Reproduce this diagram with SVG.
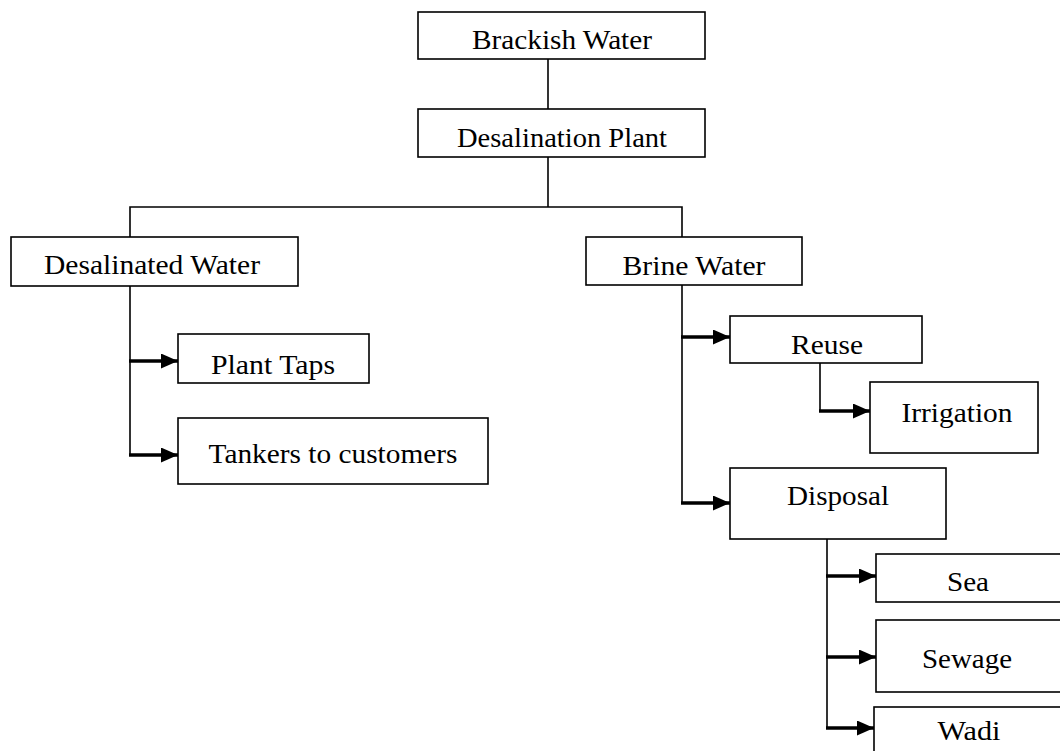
<svg xmlns="http://www.w3.org/2000/svg" width="1060" height="751" viewBox="0 0 1060 751">
<defs>
<style>
.box{fill:#fff;stroke:#000;stroke-width:1.6}
.lbl{font-family:"Liberation Serif","Times New Roman",serif;font-size:28px;fill:#000;text-anchor:middle}
.ln{fill:none;stroke:#000;stroke-width:1.6}
.arr{fill:none;stroke:#000;stroke-width:3.6;marker-end:url(#ah)}
</style>
<marker id="ah" viewBox="0 0 17 15" refX="17" refY="7.5" markerWidth="17" markerHeight="15" markerUnits="userSpaceOnUse" orient="auto">
<path d="M0,0 L17,7.5 L0,15 z" fill="#000"/>
</marker>
</defs>
<g id="connectors">
<line class="ln" x1="548" y1="59" x2="548" y2="109"/>
<polyline class="ln" points="548,157 548,207"/>
<polyline class="ln" points="130,237 130,207 682,207 682,237"/>
<polyline class="ln" points="130,286 130,456"/>
<line class="arr" x1="129" y1="361" x2="178" y2="361"/>
<line class="arr" x1="129" y1="455" x2="178" y2="455"/>
<polyline class="ln" points="682,285 682,504"/>
<line class="arr" x1="681" y1="337" x2="730" y2="337"/>
<line class="arr" x1="681" y1="503" x2="730" y2="503"/>
<polyline class="ln" points="820,363 820,411"/>
<line class="arr" x1="819" y1="411" x2="870" y2="411"/>
<polyline class="ln" points="827,539 827,729"/>
<line class="arr" x1="826" y1="576" x2="876" y2="576"/>
<line class="arr" x1="826" y1="657" x2="876" y2="657"/>
<line class="arr" x1="826" y1="728" x2="874" y2="728"/>
</g>
<g id="brackish"><rect class="box" x="418" y="12" width="287" height="47"/><text class="lbl" x="562" y="49" textLength="180" lengthAdjust="spacingAndGlyphs">Brackish Water</text></g>
<g id="plant"><rect class="box" x="418" y="109" width="287" height="48"/><text class="lbl" x="562" y="147" textLength="210" lengthAdjust="spacingAndGlyphs">Desalination Plant</text></g>
<g id="desalinated"><rect class="box" x="11" y="237" width="287" height="49"/><text class="lbl" x="152" y="274" textLength="216" lengthAdjust="spacingAndGlyphs">Desalinated Water</text></g>
<g id="brine"><rect class="box" x="586" y="237" width="216" height="48"/><text class="lbl" x="694" y="275" textLength="143" lengthAdjust="spacingAndGlyphs">Brine Water</text></g>
<g id="taps"><rect class="box" x="178" y="334" width="191" height="49"/><text class="lbl" x="273" y="374" textLength="124" lengthAdjust="spacingAndGlyphs">Plant Taps</text></g>
<g id="tankers"><rect class="box" x="178" y="418" width="310" height="66"/><text class="lbl" x="333" y="463" textLength="249" lengthAdjust="spacingAndGlyphs">Tankers to customers</text></g>
<g id="reuse"><rect class="box" x="730" y="316" width="192" height="47"/><text class="lbl" x="827" y="354" textLength="72" lengthAdjust="spacingAndGlyphs">Reuse</text></g>
<g id="irrigation"><rect class="box" x="870" y="382" width="168" height="71"/><text class="lbl" x="957" y="422" textLength="111" lengthAdjust="spacingAndGlyphs">Irrigation</text></g>
<g id="disposal"><rect class="box" x="730" y="468" width="216" height="71"/><text class="lbl" x="838" y="505" textLength="102" lengthAdjust="spacingAndGlyphs">Disposal</text></g>
<g id="sea"><rect class="box" x="876" y="554" width="200" height="48"/><text class="lbl" x="968" y="591" textLength="42" lengthAdjust="spacingAndGlyphs">Sea</text></g>
<g id="sewage"><rect class="box" x="876" y="620" width="200" height="72"/><text class="lbl" x="967" y="668" textLength="90" lengthAdjust="spacingAndGlyphs">Sewage</text></g>
<g id="wadi"><rect class="box" x="874" y="707" width="200" height="60"/><text class="lbl" x="969" y="740" textLength="63" lengthAdjust="spacingAndGlyphs">Wadi</text></g>
</svg>
